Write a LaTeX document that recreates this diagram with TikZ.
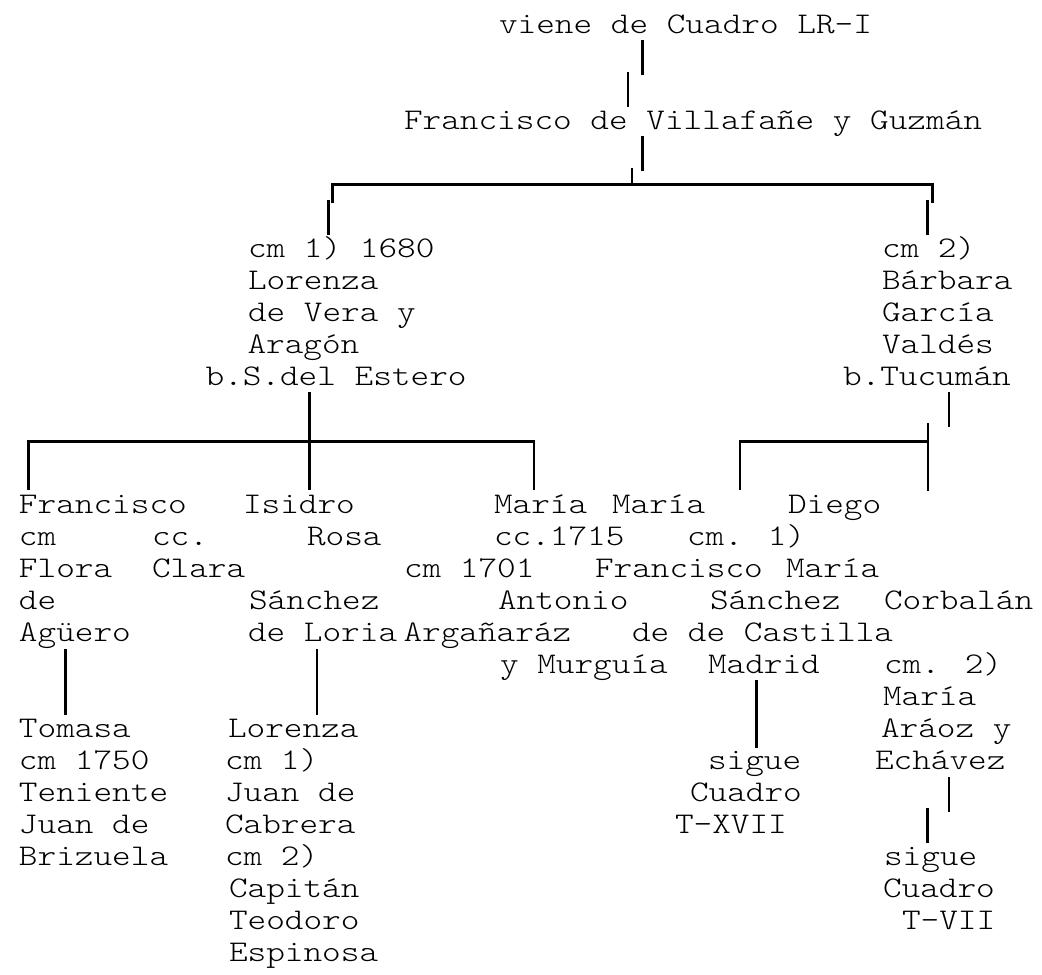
\documentclass[tikz,border=0pt]{standalone}
\usepackage{fontspec}
\newfontfamily\monolight{lmmonolt10-regular.otf}
\tikzset{
  txt/.style={anchor=base west, inner sep=0pt, outer sep=0pt,
    font=\monolight\fontsize{30}{32}\selectfont, xscale=1.184},
  bar/.style={line width=2.6pt, line cap=butt, line join=miter},
}
\begin{document}
\begin{tikzpicture}[x=1pt,y=-1pt]
\fill[white] (0,0) rectangle (1042,975);
\useasboundingbox (0,0) rectangle (1042,975);

% ---------- top ----------
\node[txt] (viene) at (499,33.3) {viene de Cuadro LR-I};
\node[txt] (fvg) at (404,129.3) {Francisco de Villafañe y Guzmán};

\node[txt] (l1) at (248,257.3) {cm 1) 1680};
\node[txt] (l2) at (248,289.3) {Lorenza};
\node[txt] (l3) at (248,321.3) {de Vera y};
\node[txt] (l4) at (247.5,353.3) {Aragón};
\node[txt] (l5) at (205.5,385.3) {b.S.del Estero};

\node[txt] (r1) at (882,257.3) {cm 2)};
\node[txt] (r2) at (882,289.3) {Bárbara};
\node[txt] (r3) at (882,321.3) {García};
\node[txt] (r4) at (882,353.3) {Valdés};
\node[txt] (r5) at (843,385.3) {b.Tucumán};

% ---------- children rows ----------
\node[txt] (a15) at (19,513.3) {Francisco};
\node[txt] (b15) at (243,513.3) {Isidro};
\node[txt] (c15) at (494,513.3) {María};
\node[txt] (d15) at (612,513.3) {María};
\node[txt] (e15) at (788,513.3) {Diego};

\node[txt] (a16) at (19,545.3) {cm};
\node[txt] (a16b) at (152,545.3) {cc.};
\node[txt] (b16) at (307,545.3) {Rosa};
\node[txt] (c16) at (494,545.3) {cc.1715};
\node[txt] (d16) at (687,545.3) {cm. 1)};

\node[txt] (a17) at (19,577.3) {Flora};
\node[txt] (a17b) at (152,577.3) {Clara};
\node[txt] (c17) at (404,577.3) {cm 1701};
\node[txt] (d17) at (595,577.3) {Francisco};
\node[txt] (e17) at (786,577.3) {María};

\node[txt] (a18) at (19,609.3) {de};
\node[txt] (b18) at (249,609.3) {Sánchez};
\node[txt] (c18) at (498,609.3) {Antonio};
\node[txt] (d18) at (710,609.3) {Sánchez};
\node[txt] (e18) at (884,609.3) {Corbalán};

\node[txt] (a19) at (19,641.3) {Agüero};
\node[txt] (b19) at (248,641.3) {de Loria};
\node[txt] (c19) at (403.5,641.3) {Argañaráz};
\node[txt] (d19) at (632,641.3) {de de Castilla};

\node[txt] (c20) at (500,673.3) {y Murguía};
\node[txt] (d20) at (708,673.3) {Madrid};
\node[txt] (e20) at (884,673.3) {cm. 2)};

\node[txt] (e21) at (883,705.3) {María};

\node[txt] (a22) at (19,737.3) {Tomasa};
\node[txt] (b22) at (228,737.3) {Lorenza};
\node[txt] (e22) at (881,737.3) {Aráoz y};

\node[txt] (a23) at (19,769.3) {cm 1750};
\node[txt] (b23) at (225,769.3) {cm 1)};
\node[txt] (d23) at (708,769.3) {sigue};
\node[txt] (e23) at (875,769.3) {Echávez};

\node[txt] (a24) at (19,801.3) {Teniente};
\node[txt] (b24) at (225,801.3) {Juan de};
\node[txt] (d24) at (690,801.3) {Cuadro};

\node[txt] (a25) at (19,833.3) {Juan de};
\node[txt] (b25) at (225,833.3) {Cabrera};
\node[txt] (d25) at (675,833.3) {T-XVII};

\node[txt] (a26) at (19,865.3) {Brizuela};
\node[txt] (b26) at (225,865.3) {cm 2)};
\node[txt] (e26) at (884,865.3) {sigue};

\node[txt] (b27) at (229,897.3) {Capitán};
\node[txt] (e27) at (883,897.3) {Cuadro};

\node[txt] (b28) at (229,929.3) {Teodoro};
\node[txt] (e28) at (902,929.3) {T-VII};

\node[txt] (b29) at (229,961.3) {Espinosa};

% ---------- connector points ----------
\coordinate (s1a) at (642.5,40);  \coordinate (s1b) at (642.5,75);
\coordinate (s2a) at (628,72);    \coordinate (s2b) at (628,107);
\coordinate (s3a) at (642.5,136); \coordinate (s3b) at (642.5,171);
\coordinate (tka) at (632,168);   \coordinate (tkb) at (632,184.7);
\coordinate (h1l) at (332.7,184.7); \coordinate (h1r) at (932.3,184.7);
\coordinate (h1lt) at (332.7,203); \coordinate (h1rt) at (932.3,203);
\coordinate (s4a) at (328.5,200); \coordinate (s4b) at (328.5,235);
\coordinate (s5a) at (927.7,200); \coordinate (s5b) at (927.7,235);

\coordinate (v1a) at (309.5,392); \coordinate (v1b) at (309.5,490);
\coordinate (h2l) at (28.3,441.7); \coordinate (h2r) at (534,441.7);
\coordinate (v2b) at (28.3,490);  \coordinate (v3b) at (534,490);

\coordinate (v4a) at (949,392);   \coordinate (v4b) at (949,427);
\coordinate (v5a) at (928,423);   \coordinate (v5b) at (928,491);
\coordinate (h3l) at (740,441.7); \coordinate (h3r) at (928,441.7);
\coordinate (v6b) at (740,490);

\coordinate (v7a) at (65.7,649);  \coordinate (v7b) at (65.7,715);
\coordinate (v8a) at (317,649);   \coordinate (v8b) at (317,715);
\coordinate (v9a) at (756.5,680); \coordinate (v9b) at (756.5,748);
\coordinate (v10a) at (949,777);  \coordinate (v10b) at (949,812);
\coordinate (v11a) at (927.5,808); \coordinate (v11b) at (927.5,843);

% ---------- connectors ----------
\draw[bar] (s1a) -- (s1b);
\draw[bar] (s2a) -- (s2b);
\draw[bar] (s3a) -- (s3b);
\draw[bar] (tka) -- (tkb);
\draw[bar] (h1lt) -- (h1l) -- (h1r) -- (h1rt);
\draw[bar] (s4a) -- (s4b);
\draw[bar] (s5a) -- (s5b);

\draw[bar] (v1a) -- (v1b);
\draw[bar] (v2b) -- (h2l) -- (h2r) -- (v3b);

\draw[bar] (v4a) -- (v4b);
\draw[bar] (v5a) -- (v5b);
\draw[bar] (v6b) -- (h3l) -- (h3r);

\draw[bar] (v7a) -- (v7b);
\draw[bar] (v8a) -- (v8b);
\draw[bar] (v9a) -- (v9b);
\draw[bar] (v10a) -- (v10b);
\draw[bar] (v11a) -- (v11b);
\end{tikzpicture}
\end{document}
